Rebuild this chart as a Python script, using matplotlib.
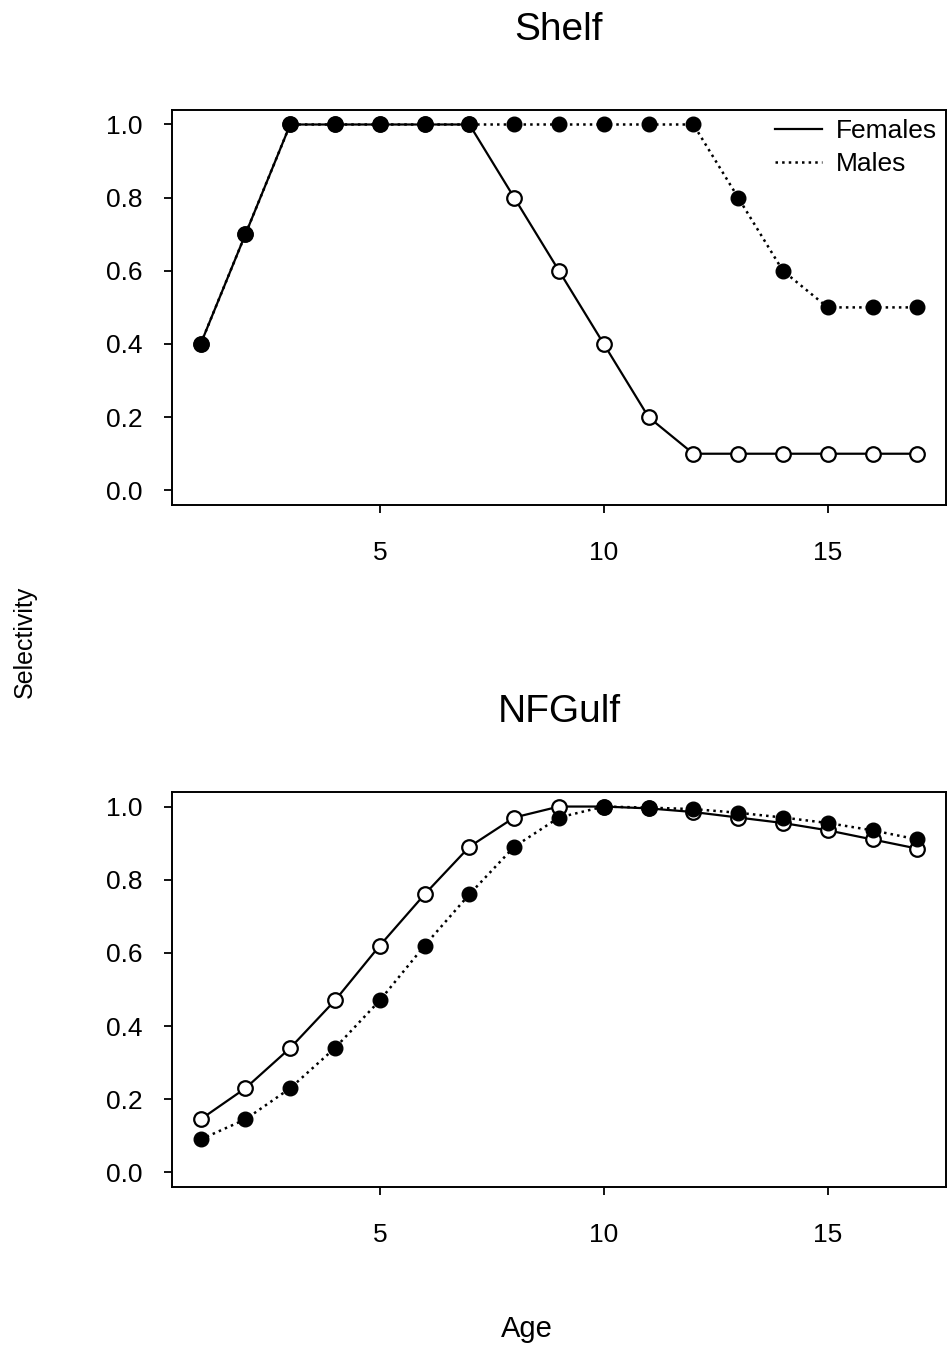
import numpy as np
import matplotlib.pyplot as plt

plt.rcParams['font.family'] = ['Liberation Sans', 'DejaVu Sans']

ages = np.arange(1, 18)

shelf_females = [0.4, 0.7, 1.0, 1.0, 1.0, 1.0, 1.0, 0.8, 0.6, 0.4, 0.2,
                 0.1, 0.1, 0.1, 0.1, 0.1, 0.1]
shelf_males = [0.4, 0.7, 1.0, 1.0, 1.0, 1.0, 1.0, 1.0, 1.0, 1.0, 1.0,
               1.0, 0.8, 0.6, 0.5, 0.5, 0.5]

gulf_females = [0.145, 0.23, 0.34, 0.47, 0.62, 0.76, 0.89, 0.97, 1.0, 1.0,
                0.995, 0.985, 0.97, 0.955, 0.935, 0.91, 0.885]
gulf_males = [0.09, 0.145, 0.23, 0.34, 0.47, 0.62, 0.76, 0.89, 0.97, 1.0,
              0.997, 0.993, 0.983, 0.97, 0.955, 0.935, 0.91]

panels = [("Shelf", shelf_females, shelf_males),
          ("NFGulf", gulf_females, gulf_males)]


def draw_panel(ax, title, females, males, legend=False):
    ax.plot(ages, females, '-', color='black', lw=1.6, marker='o',
            ms=10.5, mfc='white', mec='black', mew=1.6, label='Females', zorder=3)
    ax.plot(ages, males, ':', color='black', lw=1.8, marker='o',
            ms=10.5, mfc='black', mec='black', label='Males', zorder=4)
    ax.set_xlim(0.36, 17.64)
    ax.set_ylim(-0.04, 1.04)
    ax.set_xticks([5, 10, 15])
    ax.set_yticks([0.0, 0.2, 0.4, 0.6, 0.8, 1.0])
    ax.set_yticklabels(['0.0', '0.2', '0.4', '0.6', '0.8', '1.0'])
    ax.tick_params(direction='out', length=6, width=1.3, labelsize=19)
    ax.tick_params(axis='x', pad=20)
    ax.tick_params(axis='y', pad=15)
    for s in ax.spines.values():
        s.set_linewidth(1.4)
    ax.set_title(title, fontsize=28, pad=50)
    if legend:
        leg = ax.legend(loc='upper right', frameon=False, fontsize=19,
                        handlelength=1.8, borderaxespad=0.25, labelspacing=0.35,
                        handletextpad=0.5, borderpad=0.1)
        for h in leg.legend_handles:
            h.set_marker('')


fig = plt.figure(figsize=(9.48, 13.53), dpi=100)
ax1 = fig.add_axes([0.1814, 0.6268, 0.8165, 0.292])
ax2 = fig.add_axes([0.1814, 0.1227, 0.8165, 0.292])

draw_panel(ax1, *panels[0], legend=True)
draw_panel(ax2, *panels[1])

fig.text(0.026, 0.5255, 'Selectivity', rotation=90, fontsize=18,
         ha='center', va='center')
fig.text(0.556, 0.0074, 'Age', fontsize=21, ha='center', va='bottom')

fig.savefig('out.png', dpi=100)
